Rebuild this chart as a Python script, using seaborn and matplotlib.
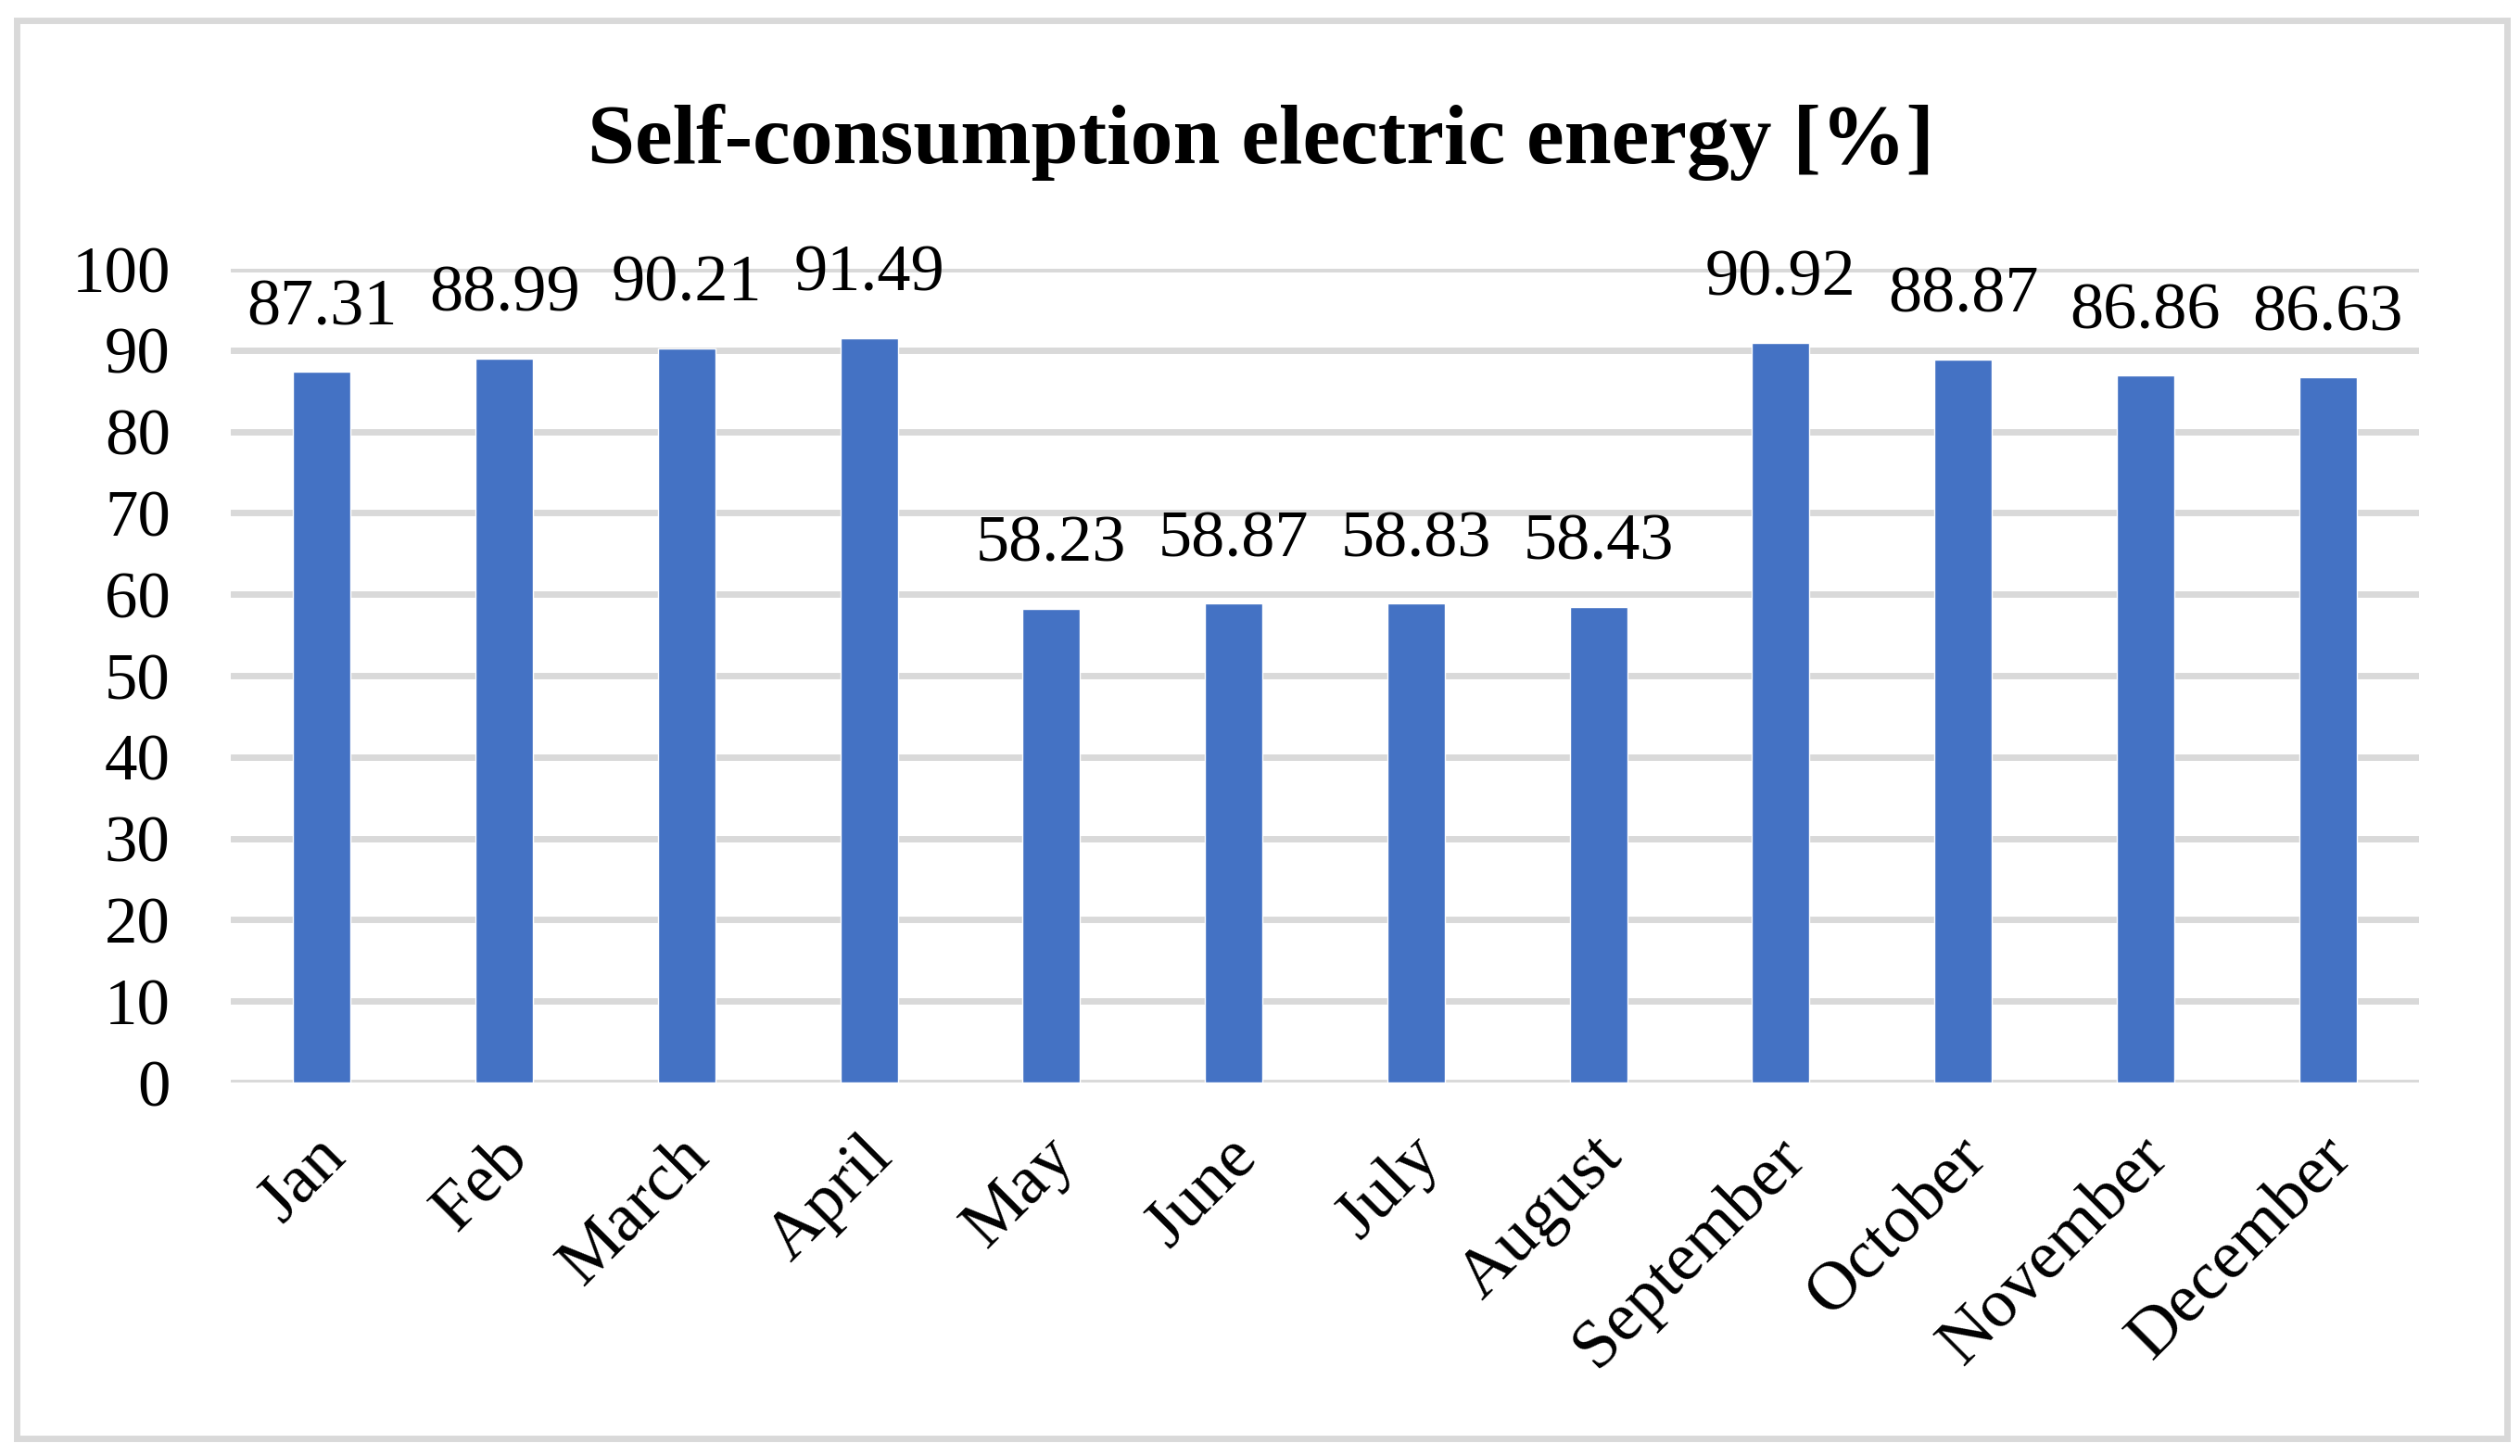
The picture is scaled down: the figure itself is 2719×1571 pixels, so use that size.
import matplotlib
matplotlib.use("Agg")
import matplotlib.pyplot as plt
import matplotlib.transforms as mtransforms
import seaborn as sns
import pandas as pd
from matplotlib.patches import Rectangle

months = ["Jan", "Feb", "March", "April", "May", "June", "July", "August",
          "September", "October", "November", "December"]
values = [87.31, 88.99, 90.21, 91.49, 58.23, 58.87, 58.83, 58.43,
          90.92, 88.87, 86.86, 86.63]
yticks = [0, 10, 20, 30, 40, 50, 60, 70, 80, 90, 100]
title = "Self-consumption electric energy [%]"

sns.set_theme(style="white")
plt.rcParams["font.family"] = ["Liberation Serif", "DejaVu Serif"]
plt.rcParams["text.color"] = "black"
plt.rcParams["xtick.color"] = "black"
plt.rcParams["ytick.color"] = "black"

df = pd.DataFrame({"month": months, "value": values})

fig = plt.figure(figsize=(27.19, 15.71), dpi=100)
ax = fig.add_axes([0.0916, 0.2565, 0.8683, 0.5589])

sns.barplot(data=df, x="month", y="value", color="#4472C4", width=0.315,
            saturation=1, ax=ax, zorder=3)

ax.set_xlim(-0.5, len(months) - 0.5)
ax.set_ylim(0, 100)
ax.set_yticks(yticks)
ax.set_yticklabels([str(t) for t in yticks], fontsize=51, color="black")
ax.yaxis.grid(True, color="#d9d9d9", linewidth=5, zorder=0)
ax.set_axisbelow(True)
for s in ax.spines.values():
    s.set_visible(False)
ax.tick_params(axis="both", length=0)
ax.tick_params(axis="y", pad=47)
ax.tick_params(axis="x", pad=33)
ax.set_xlabel("")
ax.set_ylabel("")
shift = mtransforms.ScaledTranslation(-9 / 100, 0, fig.dpi_scale_trans)
for lbl in ax.get_xticklabels():
    lbl.set_rotation(45)
    lbl.set_ha("right")
    lbl.set_rotation_mode("anchor")
    lbl.set_fontsize(54)
    lbl.set_color("black")
    lbl.set_transform(lbl.get_transform() + shift)

for cont in ax.containers:
    ax.bar_label(cont, labels=[f"{v:.2f}" for v in values], padding=26,
                 fontsize=52, color="black", clip_on=False)

fig.text(0.5005, 0.9026, title, ha="center", va="center", fontsize=66,
         fontweight="bold", color="black")

fig.patches.append(Rectangle((0.0066, 0.0121), 0.9882, 0.9739,
                             transform=fig.transFigure, fill=False,
                             edgecolor="#d9d9d9", linewidth=5))

fig.savefig("out.png", dpi=100, facecolor="white")
